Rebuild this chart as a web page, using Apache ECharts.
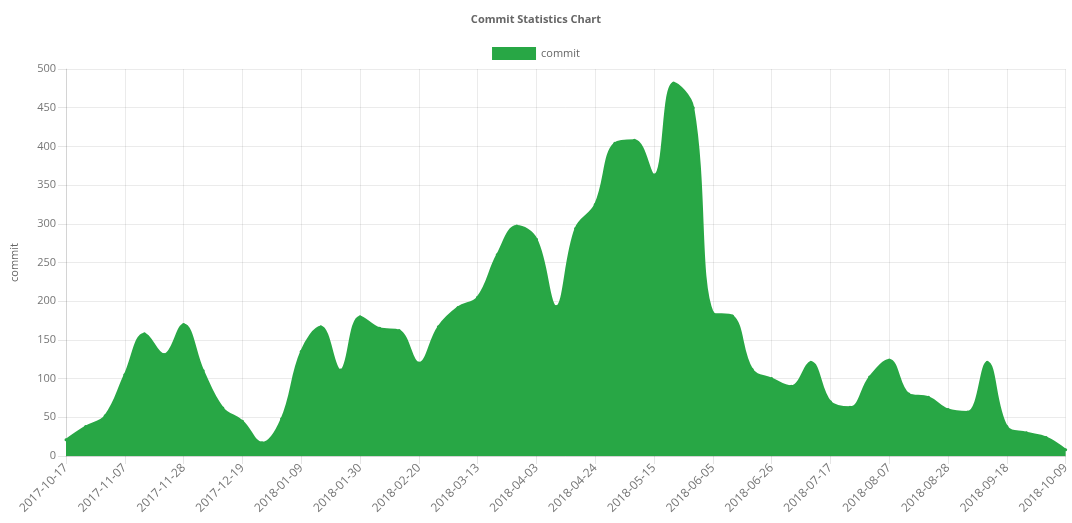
<!DOCTYPE html>
<html>
<head>
<meta charset="utf-8">
<script src="https://cdn.jsdelivr.net/npm/echarts@6/dist/echarts.min.js"></script>
<style>html,body{margin:0;padding:0;background:#fff}#c{width:1072px;height:523px}</style>
</head>
<body>
<div id="c"></div>
<script>
const dates = [
 '2017-10-17','2017-10-24','2017-10-31','2017-11-07','2017-11-14','2017-11-21','2017-11-28',
 '2017-12-05','2017-12-12','2017-12-19','2017-12-26','2018-01-02','2018-01-09','2018-01-16',
 '2018-01-23','2018-01-30','2018-02-06','2018-02-13','2018-02-20','2018-02-27','2018-03-06',
 '2018-03-13','2018-03-20','2018-03-27','2018-04-03','2018-04-10','2018-04-17','2018-04-24',
 '2018-05-01','2018-05-08','2018-05-15','2018-05-22','2018-05-29','2018-06-05','2018-06-12',
 '2018-06-19','2018-06-26','2018-07-03','2018-07-10','2018-07-17','2018-07-24','2018-07-31',
 '2018-08-07','2018-08-14','2018-08-21','2018-08-28','2018-09-04','2018-09-11','2018-09-18',
 '2018-09-25','2018-10-02','2018-10-09'
];
const commits = [
 21, 38, 52, 105, 158, 131, 170, 110, 62, 45, 17, 48, 135, 167, 111, 180, 165, 162, 120, 167,
 192, 205, 260, 297, 280, 193, 294, 325, 404, 408, 363, 482, 450, 185, 181, 112, 100, 90, 121,
 70, 63, 102, 124, 80, 76, 60, 57, 121, 38, 30, 24, 8
];
const yTicks = { min: 0, max: 500, interval: 50 };
const green = '#28a745';
const chart = echarts.init(document.getElementById('c'));
chart.setOption({
  animation: false,
  title: {
    text: 'Commit Statistics Chart', left: 'center', top: 9,
    textStyle: { fontSize: 11, fontWeight: 'bold', color: '#666', fontFamily: 'Open Sans, sans-serif' }
  },
  legend: {
    top: 42, left: 'center', itemWidth: 44, itemHeight: 13, icon: 'rect',
    textStyle: { fontSize: 11, color: '#666', fontFamily: 'Open Sans, sans-serif' },
    data: ['commit']
  },
  grid: { left: 66, right: 3, top: 69, bottom: 67 },
  xAxis: {
    type: 'category', data: dates, boundaryGap: false,
    axisLine: { lineStyle: { color: 'rgba(0,0,0,0.1)' } },
    axisTick: { show: true, interval: 2, length: 8, lineStyle: { color: 'rgba(0,0,0,0.1)' } },
    axisLabel: { interval: 2, rotate: 45, color: '#777', fontSize: 12, margin: 10, fontFamily: 'Open Sans, sans-serif' },
    splitLine: { show: true, interval: 2, lineStyle: { color: 'rgba(0,0,0,0.08)' } }
  },
  yAxis: {
    type: 'value', min: yTicks.min, max: yTicks.max, interval: yTicks.interval,
    name: 'commit', nameLocation: 'middle', nameGap: 46, nameRotate: 90,
    nameTextStyle: { color: '#666', fontSize: 11, fontFamily: 'Open Sans, sans-serif' },
    axisLine: { show: true, lineStyle: { color: 'rgba(0,0,0,0.1)' } },
    axisTick: { show: true, length: 8, lineStyle: { color: 'rgba(0,0,0,0.1)' } },
    axisLabel: { color: '#777', fontSize: 11, margin: 10, fontFamily: 'Open Sans, sans-serif' },
    splitLine: { lineStyle: { color: 'rgba(0,0,0,0.08)' } }
  },
  series: [{
    name: 'commit', type: 'line', data: commits, smooth: 0.4,
    symbol: 'circle', symbolSize: 3, showSymbol: true,
    itemStyle: { color: green },
    lineStyle: { color: green, width: 2 },
    areaStyle: { color: green, opacity: 1 }
  }]
});
</script>
</body>
</html>
